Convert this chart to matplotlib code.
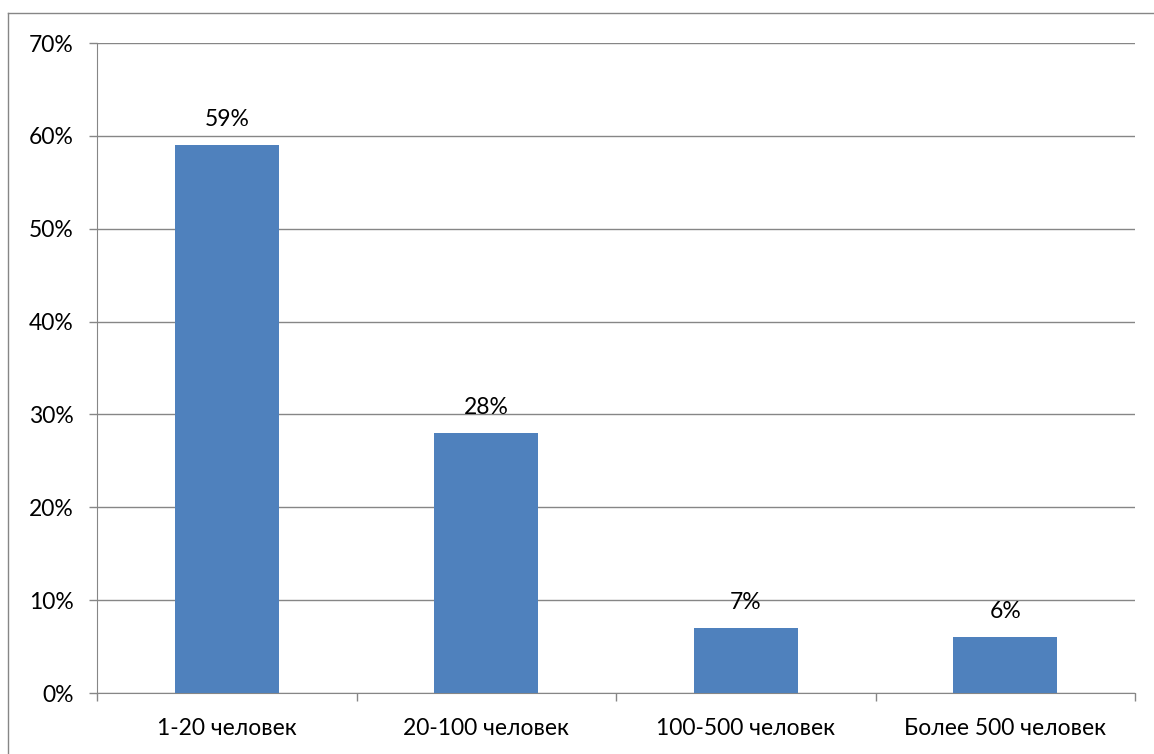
import numpy as np
import matplotlib
matplotlib.use('Agg')
import matplotlib.pyplot as plt
from matplotlib.ticker import FixedLocator, PercentFormatter
from matplotlib.lines import Line2D

plt.rcParams['font.family'] = ['Lato', 'DejaVu Sans']

categories = ['1-20 человек', '20-100 человек', '100-500 человек', 'Более 500 человек']
shares = [59, 28, 7, 6]
yticks = [0, 10, 20, 30, 40, 50, 60, 70]

BAR = '#4f81bd'
GRID = '#868686'
FS = 16.5

fig = plt.figure(figsize=(11.54, 7.54), dpi=100)
ax = fig.add_axes([97 / 1154, 1 - 693 / 754, (1135 - 97) / 1154, (693 - 43) / 754])

x = np.arange(len(categories))
bars = ax.bar(x, shares, width=0.4, color=BAR, zorder=3)

for b, v in zip(bars, shares):
    ax.annotate(f'{v}%', (b.get_x() + b.get_width() / 2, v), xytext=(0, 11),
                textcoords='offset points', ha='center', va='bottom', fontsize=FS, color='black')

ax.set_xlim(-0.5, len(categories) - 0.5)
ax.set_ylim(0, 70)
ax.set_yticks(yticks)
ax.yaxis.set_major_formatter(PercentFormatter(decimals=0))
ax.set_xticks(x)
ax.set_xticklabels(categories)
ax.xaxis.set_minor_locator(FixedLocator(np.arange(len(categories) + 1) - 0.5))

ax.tick_params(axis='x', which='major', length=0, pad=18, labelsize=FS)
ax.tick_params(axis='x', which='minor', length=6, color=GRID, width=1)
ax.tick_params(axis='y', length=6, color=GRID, width=1, pad=11, labelsize=FS)

ax.grid(axis='y', color=GRID, linewidth=1, zorder=0)
for s in ['top', 'right']:
    ax.spines[s].set_visible(False)
ax.spines['left'].set_color(GRID)
ax.spines['bottom'].set_color(GRID)

# outer chart frame (only left and top edges visible)
fig.add_artist(Line2D([8 / 1154, 8 / 1154], [0, 1 - 13 / 754], color=GRID, lw=1, transform=fig.transFigure))
fig.add_artist(Line2D([8 / 1154, 1], [1 - 13 / 754, 1 - 13 / 754], color=GRID, lw=1, transform=fig.transFigure))

fig.savefig('out.png', dpi=100, facecolor='white')
